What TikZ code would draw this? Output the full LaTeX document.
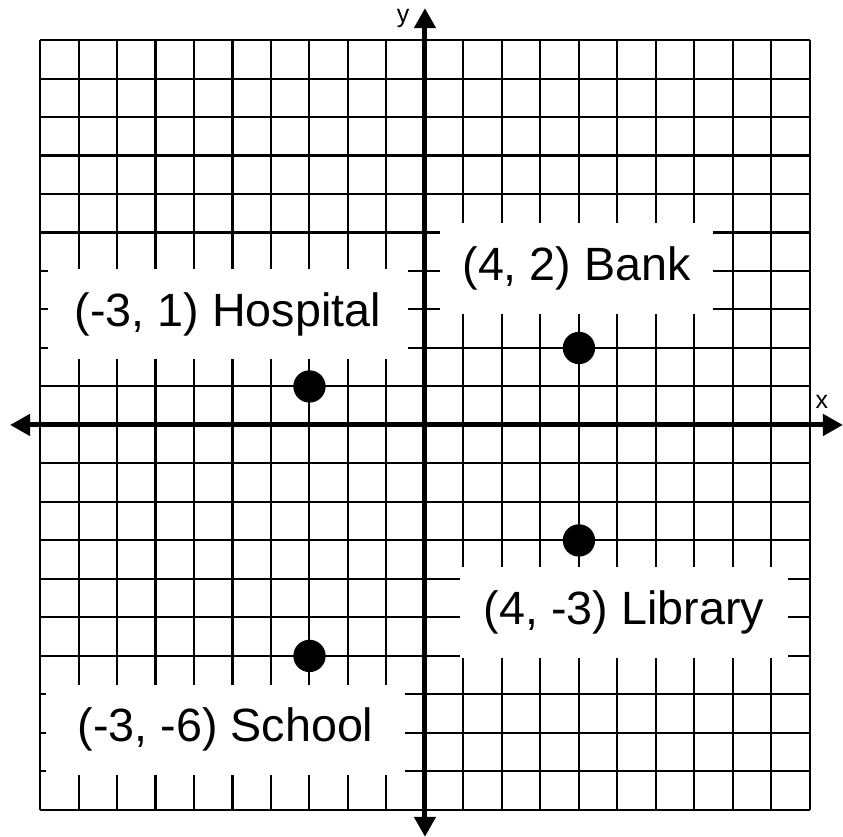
\documentclass[tikz,border=0pt]{standalone}
\usepackage{fontspec}
\setmainfont{Liberation Sans}
\usepackage{tikz}
\usetikzlibrary{arrows.meta}
\tikzset{
  mapgrid/.style={line width=1.5pt},
  mapaxis/.style={{Triangle[length=5.2mm,width=5.4mm]}-{Triangle[length=5.2mm,width=5.4mm]},line width=1.3mm},
  mapdot/.style={circle,fill=black,inner sep=0pt,minimum size=8.4mm},
  maplabel/.style={fill=white,inner sep=0pt,minimum height=2.35cm,font=\fontsize{34.5}{40}\selectfont},
  mapaxislabel/.style={inner sep=0pt,font=\fontsize{18.5}{22}\selectfont},
}

\begin{document}
\begin{tikzpicture}[x=1cm,y=1cm]
 % places on the coordinate grid
\useasboundingbox (-11.04,-10.70) rectangle (10.86,11.04);
\draw[mapgrid] (-10,-10) grid (10,10);
\node[maplabel,minimum width=9.35cm] (hospital-label) at (-5.12,2.88) {(-3, 1) Hospital};
\node[maplabel,minimum width=7.09cm] (bank-label) at (3.94,4.06) {(4, 2) Bank};
\node[maplabel,minimum width=8.52cm] (library-label) at (5.17,-4.87) {(4, -3) Library};
\node[maplabel,minimum width=9.32cm] (school-label) at (-5.18,-7.92) {(-3, -6) School};
\coordinate (x-left) at (-10.78,0);
\coordinate (x-right) at (10.86,0);
\coordinate (y-bottom) at (0,-10.70);
\coordinate (y-top) at (0,10.83);
\draw[mapaxis] (x-left) -- (x-right);
\draw[mapaxis] (y-bottom) -- (y-top);
\node[mapaxislabel] (x-name) at (10.31,0.60) {x};
\node[mapaxislabel] (y-name) at (-0.57,10.57) {y};
\node[mapdot] (hospital) at (-3,1) {};
\node[mapdot] (bank) at (4,2) {};
\node[mapdot] (library) at (4,-3) {};
\node[mapdot] (school) at (-3,-6) {};
\end{tikzpicture}
\end{document}
